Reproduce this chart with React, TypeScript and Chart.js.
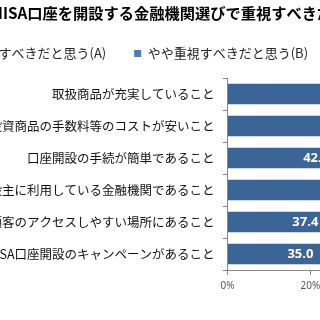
import React, { useEffect, useRef } from "react";
import { Chart, registerables } from "chart.js";

Chart.register(...registerables);

const chartTitle = "NISA口座を開設する金融機関選びで重視すべきだと思うこと";
const categories = [
  "取扱商品が充実していること",
  "投資商品の手数料等のコストが安いこと",
  "口座開設の手続が簡単であること",
  "普段主に利用している金融機関であること",
  "店舗が顧客のアクセスしやすい場所にあること",
  "NISA口座開設のキャンペーンがあること",
];
const seriesLabels = ["重視すべきだと思う(A)", "やや重視すべきだと思う(B)"];
const valuesA = [55.3, 53.1, 42.6, 52.4, 37.4, 35.0];
const valuesB = [34.2, 33.5, 37.0, 29.8, 38.1, 31.6];
const xMin = 0;
const xMax = 57;
const xStep = 20;

const COLOR_A = "#3C6597";
const COLOR_B = "#4A7CC2";
const FAMILY = "'Noto Sans CJK JP', 'Noto Sans', sans-serif";

export default function App() {
  const ref = useRef<HTMLCanvasElement>(null);

  useEffect(() => {
    const canvas = ref.current;
    if (!canvas) return;

    const legendSpacer = {
      id: "legendSpacer",
      beforeInit(chart: any) {
        const legend = chart.legend;
        if (!legend) return;
        const origFit = legend.fit;
        legend.fit = function () {
          origFit.call(this);
          this.height += 8;
        };
      },
    };

    const barLabels = {
      id: "barLabels",
      afterDatasetsDraw(chart: any) {
        const ctx = chart.ctx;
        const meta = chart.getDatasetMeta(0);
        ctx.save();
        ctx.fillStyle = "#ffffff";
        ctx.font = "bold 13px 'Noto Sans', sans-serif";
        ctx.textAlign = "center";
        ctx.textBaseline = "middle";
        meta.data.forEach((bar: any, i: number) => {
          const x = (bar.x + bar.base) / 2;
          ctx.fillText(valuesA[i].toFixed(1), x, bar.y);
        });
        ctx.restore();
      },
    };

    Chart.defaults.font.family = FAMILY;

    const chart = new Chart(canvas, {
      type: "bar",
      data: {
        labels: categories,
        datasets: [
          { label: seriesLabels[0], data: valuesA, backgroundColor: COLOR_A, borderWidth: 0 },
          { label: seriesLabels[1], data: valuesB, backgroundColor: COLOR_B, borderWidth: 0 },
        ],
      },
      options: {
        indexAxis: "y",
        responsive: false,
        animation: false,
        devicePixelRatio: 1,
        layout: { autoPadding: false, padding: { left: 0, right: 0, top: 0, bottom: 23 } },
        datasets: { bar: { barPercentage: 0.64, categoryPercentage: 1 } },
        scales: {
          x: {
            stacked: true,
            min: xMin,
            max: xMax,
            ticks: {
              stepSize: xStep,
              callback: (v: any) => (v % xStep === 0 ? v + "%" : ""),
              color: "#595959",
              font: { size: 10, family: "'Noto Sans', sans-serif" },
              padding: 5,
            },
            grid: { drawOnChartArea: false, tickLength: 5, color: "#868686" },
            border: { color: "#868686" },
          },
          y: {
            stacked: true,
            afterFit: (s: any) => {
              s.width = 296.5;
            },
            ticks: { color: "#111111", font: { size: 12.5 }, padding: 8 },
            grid: { offset: true, drawOnChartArea: false, tickLength: 5, color: "#868686" },
            border: { color: "#868686" },
          },
        },
        plugins: {
          title: {
            display: true,
            text: chartTitle,
            align: "center",
            color: "#000000",
            font: { size: 15.25, weight: "bold" },
            padding: { top: 3.85, bottom: -3.15 },
          },
          legend: {
            display: true,
            position: "top",
            align: "start",
            labels: { boxWidth: 7, boxHeight: 7, padding: 28, color: "#262626", font: { size: 13 } },
          },
          tooltip: { enabled: false },
        },
      } as any,
      plugins: [legendSpacer, barLabels],
    });

    return () => chart.destroy();
  }, []);

  return (
    <div
      style={{
        position: "fixed",
        left: 0,
        top: 0,
        width: 320,
        height: 320,
        overflow: "hidden",
        background: "#ffffff",
      }}
    >
      <canvas ref={ref} width={538} height={320} style={{ position: "absolute", left: -69.5, top: 0 }} />
    </div>
  );
}
